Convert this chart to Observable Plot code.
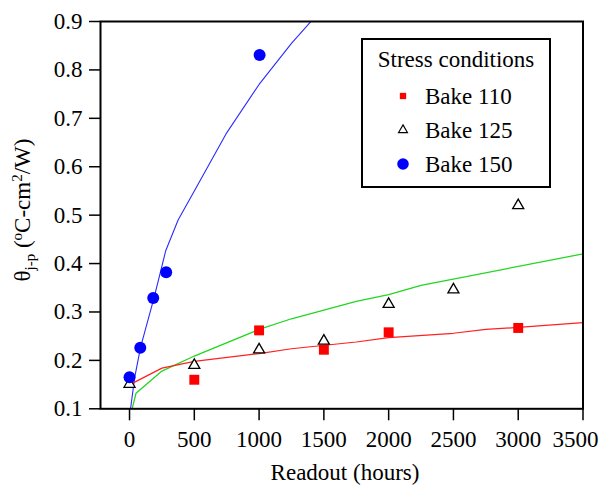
<!DOCTYPE html>
<html><head><meta charset="utf-8">
<script src="https://cdn.jsdelivr.net/npm/d3@7"></script>
<script src="https://cdn.jsdelivr.net/npm/@observablehq/plot@0.6"></script>
<style>
body{margin:0;background:#fff}
#chart svg, #chart svg text, #chart svg tspan{font-family:'Liberation Serif','Times New Roman',serif !important}
</style>
</head><body><div id="chart"></div>
<script>
// Measured points
const bake110Hours = [500, 1000, 1500, 2000, 3000];
const bake110Values = [0.160, 0.262, 0.222, 0.258, 0.267];
const bake125Hours = [0, 500, 1000, 1500, 2000, 2500, 3000];
const bake125Values = [0.151, 0.190, 0.222, 0.240, 0.316, 0.346, 0.520];
const bake150Hours = [0, 83, 183, 283, 1004];
const bake150Values = [0.165, 0.226, 0.329, 0.382, 0.831];
// Fit curves
const fit110Hours = [25, 250, 500, 1000, 1250, 1750, 2000, 2500, 2750, 3000, 3500];
const fit110Values = [0.153, 0.184, 0.198, 0.214, 0.224, 0.238, 0.247, 0.256, 0.264, 0.268, 0.278];
const fit125Hours = [20, 50, 250, 500, 1000, 1250, 1750, 2000, 2250, 3500];
const fit125Values = [0.100, 0.132, 0.178, 0.209, 0.264, 0.286, 0.322, 0.336, 0.355, 0.420];
const fit150Hours = [8, 40, 85, 190, 280, 375, 500, 750, 1000, 1250, 1500];
const fit150Values = [0.100, 0.165, 0.227, 0.330, 0.427, 0.490, 0.550, 0.670, 0.770, 0.855, 0.930];
// Axes
const xTicks = [0, 500, 1000, 1500, 2000, 2500, 3000, 3500];
const yTicks = [0.1, 0.2, 0.3, 0.4, 0.5, 0.6, 0.7, 0.8, 0.9];
const seriesNames = ["Bake 110", "Bake 125", "Bake 150"];
const legendTitle = "Stress conditions";
const xLabel = "Readout (hours)";

const zip = (xs, ys) => xs.map((x, i) => ({x, y: ys[i]}));
const p110 = zip(bake110Hours, bake110Values);
const p125 = zip(bake125Hours, bake125Values);
const p150 = zip(bake150Hours, bake150Values);
const f110 = zip(fit110Hours, fit110Values);
const f125 = zip(fit125Hours, fit125Values);
const f150 = zip(fit150Hours, fit150Values);
const lastTick = xTicks[xTicks.length - 1];

const font = "'Liberation Serif', 'Times New Roman', serif";
const svg = Plot.plot({
  width: 602, height: 485,
  marginLeft: 100, marginRight: 19.5, marginTop: 21, marginBottom: 76.7,
  style: {fontFamily: font, fontSize: "23px", color: "black", background: "white"},
  x: {domain: [-224, 3500]},
  y: {domain: [0.1, 0.9]},
  marks: [
    Plot.line(f150, {x: "x", y: "y", stroke: "#2a2aff", strokeWidth: 1.1, clip: true}),
    Plot.line(f125, {x: "x", y: "y", stroke: "#22d622", strokeWidth: 1.3, clip: true}),
    Plot.line(f110, {x: "x", y: "y", stroke: "#ff2020", strokeWidth: 1.2, clip: true}),
    Plot.dot(p110, {x: "x", y: "y", symbol: "square", r: 5.6, fill: "#ff0000", stroke: "none"}),
    Plot.dot(p125, {x: "x", y: "y", symbol: "triangle", r: 4.1, fill: "white", stroke: "black", strokeWidth: 1.3}),
    Plot.dot(p150, {x: "x", y: "y", symbol: "circle", r: 6, fill: "#0000ff", stroke: "none"}),
    Plot.axisY({ticks: yTicks, tickSize: 11, tickPadding: 7, fontSize: 23, fontFamily: font, tickFormat: d => d.toFixed(1), label: null, strokeWidth: 1.5}),
    Plot.axisX({ticks: xTicks, tickSize: 12, tickPadding: 10, fontSize: 23, fontFamily: font, tickFormat: d => d === lastTick ? "" : String(d), label: null, strokeWidth: 1.5}),
    Plot.axisX({ticks: [lastTick], tickSize: 0, tickPadding: 22, dx: -7.5, fontSize: 23, fontFamily: font, tickFormat: d => String(d), label: null}),
    Plot.frame({stroke: "black", strokeWidth: 2})
  ]
});
document.getElementById("chart").appendChild(svg);

const s = d3.select(svg);
// X title
s.append("text").attr("x", 345).attr("y", 480).attr("text-anchor", "middle")
  .attr("font-family", font).attr("font-size", 23).attr("fill", "black").text(xLabel);
// Y title
const yt = s.append("text").attr("transform", "translate(30,210) rotate(-90)")
  .attr("text-anchor", "middle").attr("font-family", font).attr("font-size", 23).attr("fill", "black");
yt.append("tspan").text("θ");
yt.append("tspan").attr("font-size", 15).attr("dy", 5).text("j-p");
yt.append("tspan").attr("dy", -5).text(" (");
yt.append("tspan").attr("font-size", 15).attr("dy", -8).text("o");
yt.append("tspan").attr("dy", 8).text("C-cm");
yt.append("tspan").attr("font-size", 15).attr("dy", -8).text("2");
yt.append("tspan").attr("dy", 8).text("/W)");

// Legend
const lg = s.append("g");
lg.append("rect").attr("x", 362).attr("y", 39).attr("width", 188).attr("height", 148)
  .attr("fill", "white").attr("stroke", "black").attr("stroke-width", 2);
lg.append("text").attr("x", 456).attr("y", 67).attr("text-anchor", "middle")
  .attr("font-family", font).attr("font-size", 23).attr("fill", "black").text(legendTitle);
const legSyms = [
  {sym: d3.symbolSquare, size: 40, fill: "#ff0000", stroke: "none"},
  {sym: d3.symbolTriangle, size: 34, fill: "white", stroke: "black"},
  {sym: d3.symbolCircle, size: 105, fill: "#0000ff", stroke: "none"}
];
const legY = [96, 130, 164];
seriesNames.forEach((name, i) => {
  lg.append("path").attr("d", d3.symbol(legSyms[i].sym, legSyms[i].size)())
    .attr("transform", `translate(403,${legY[i]})`)
    .attr("fill", legSyms[i].fill).attr("stroke", legSyms[i].stroke).attr("stroke-width", 1.2);
  lg.append("text").attr("x", 425).attr("y", legY[i] + 8).attr("text-anchor", "start")
    .attr("font-family", font).attr("font-size", 23).attr("fill", "black").text(name);
});
</script></body></html>
